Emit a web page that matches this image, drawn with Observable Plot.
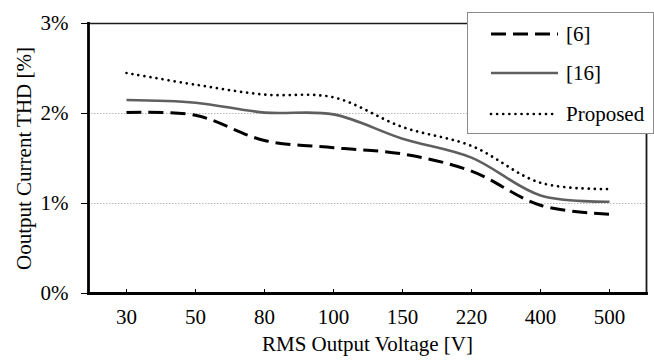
<!DOCTYPE html>
<html>
<head>
<meta charset="utf-8">
<script src="https://cdn.jsdelivr.net/npm/d3@7"></script>
<script src="https://cdn.jsdelivr.net/npm/@observablehq/plot@0.6"></script>
<style>
  body { margin: 0; background: #fff; }
  #wrap { position: relative; width: 654px; height: 362px; }
  #legend { position: absolute; left: 467px; top: 12px; width: 185px; height: 120px;
            background: #fff; border: 1px solid #8a8a8a; }
</style>
</head>
<body>
<div id="wrap"></div>
<script>
const voltages = ["30", "50", "80", "100", "150", "220", "400", "500"];
const ref6 = [2.01, 1.98, 1.70, 1.62, 1.55, 1.36, 0.98, 0.88];
const ref16 = [2.15, 2.12, 2.01, 1.99, 1.72, 1.51, 1.09, 1.02];
const proposed = [2.45, 2.32, 2.21, 2.18, 1.85, 1.64, 1.23, 1.16];
const seriesNames = ["[6]", "[16]", "Proposed"];
const yTicks = [0, 1, 2, 3];
const gridTicks = [1, 2];

const styles = {
  "[6]": {stroke: "#000", strokeWidth: 3, strokeDasharray: "15,7", linecap: "butt"},
  "[16]": {stroke: "#5f5f5f", strokeWidth: 2.6, strokeDasharray: null, linecap: "butt"},
  "Proposed": {stroke: "#000", strokeWidth: 2.7, strokeDasharray: "0.01,6.1", linecap: "round"}
};
const seriesValues = [ref6, ref16, proposed];
const rows = [];
seriesNames.forEach((name, i) => voltages.forEach((v, j) => rows.push({series: name, v, thd: seriesValues[i][j]})));

const font = "'Liberation Serif', 'Times New Roman', serif";
const fs = 21;

const lineMarks = seriesNames.map(name => Plot.line(rows.filter(r => r.series === name), {
  x: "v", y: "thd", curve: "catmull-rom",
  stroke: styles[name].stroke, strokeWidth: styles[name].strokeWidth,
  strokeDasharray: styles[name].strokeDasharray, strokeLinecap: styles[name].linecap
}));

const chart = Plot.plot({
  width: 654, height: 362,
  marginLeft: 88, marginRight: 8, marginTop: 23, marginBottom: 69,
  style: {fontFamily: font, fontSize: fs + "px", background: "#fff", color: "#000"},
  x: {type: "point", domain: voltages, padding: 0.5},
  y: {domain: [0, 3]},
  marks: [
    Plot.ruleY(gridTicks, {stroke: "#b8b8b8", strokeWidth: 1, strokeDasharray: "1.5,1.5"}),
    ...lineMarks,
    Plot.frame({anchor: "top", stroke: "#1a1a1a", strokeWidth: 1.6}),
    Plot.frame({anchor: "right", stroke: "#1a1a1a", strokeWidth: 1.8}),
    Plot.frame({anchor: "left", stroke: "#000", strokeWidth: 2.8}),
    Plot.frame({anchor: "bottom", stroke: "#000", strokeWidth: 2.8}),
    Plot.axisY(yTicks, {tickSize: 7, tickPadding: 13, tickFormat: d => d + "%", label: null, stroke: "#000", strokeWidth: 1}),
    Plot.axisX({tickSize: 0, tickPadding: 16, label: null}),
    Plot.axisX({tickSize: 4, text: null, dy: -4, label: null, stroke: "#000", strokeWidth: 1}),
    Plot.text(["RMS Output Voltage [V]"], {frameAnchor: "bottom", dy: 57, fontSize: fs}),
    Plot.text(["Ooutput Current THD [%]"], {frameAnchor: "left", textAnchor: "middle", rotate: -90, dx: -64, fontSize: fs})
  ]
});

const wrap = document.getElementById("wrap");
wrap.appendChild(chart);

// Legend
const legend = document.createElement("div");
legend.id = "legend";
const ns = "http://www.w3.org/2000/svg";
const lsvg = document.createElementNS(ns, "svg");
lsvg.setAttribute("width", 185);
lsvg.setAttribute("height", 120);
seriesNames.forEach((name, i) => {
  const y = [21, 60, 101][i];
  const ln = document.createElementNS(ns, "line");
  ln.setAttribute("x1", 23); ln.setAttribute("x2", 90);
  ln.setAttribute("y1", y); ln.setAttribute("y2", y);
  ln.setAttribute("stroke", styles[name].stroke);
  ln.setAttribute("stroke-width", styles[name].strokeWidth);
  ln.setAttribute("stroke-linecap", styles[name].linecap);
  if (styles[name].strokeDasharray) ln.setAttribute("stroke-dasharray", styles[name].strokeDasharray);
  lsvg.appendChild(ln);
  const t = document.createElementNS(ns, "text");
  t.setAttribute("x", 98); t.setAttribute("y", y);
  t.setAttribute("dy", "0.35em");
  t.setAttribute("font-family", font);
  t.setAttribute("font-size", fs + "px");
  t.textContent = name;
  lsvg.appendChild(t);
});
legend.appendChild(lsvg);
wrap.appendChild(legend);
</script>
</body>
</html>
